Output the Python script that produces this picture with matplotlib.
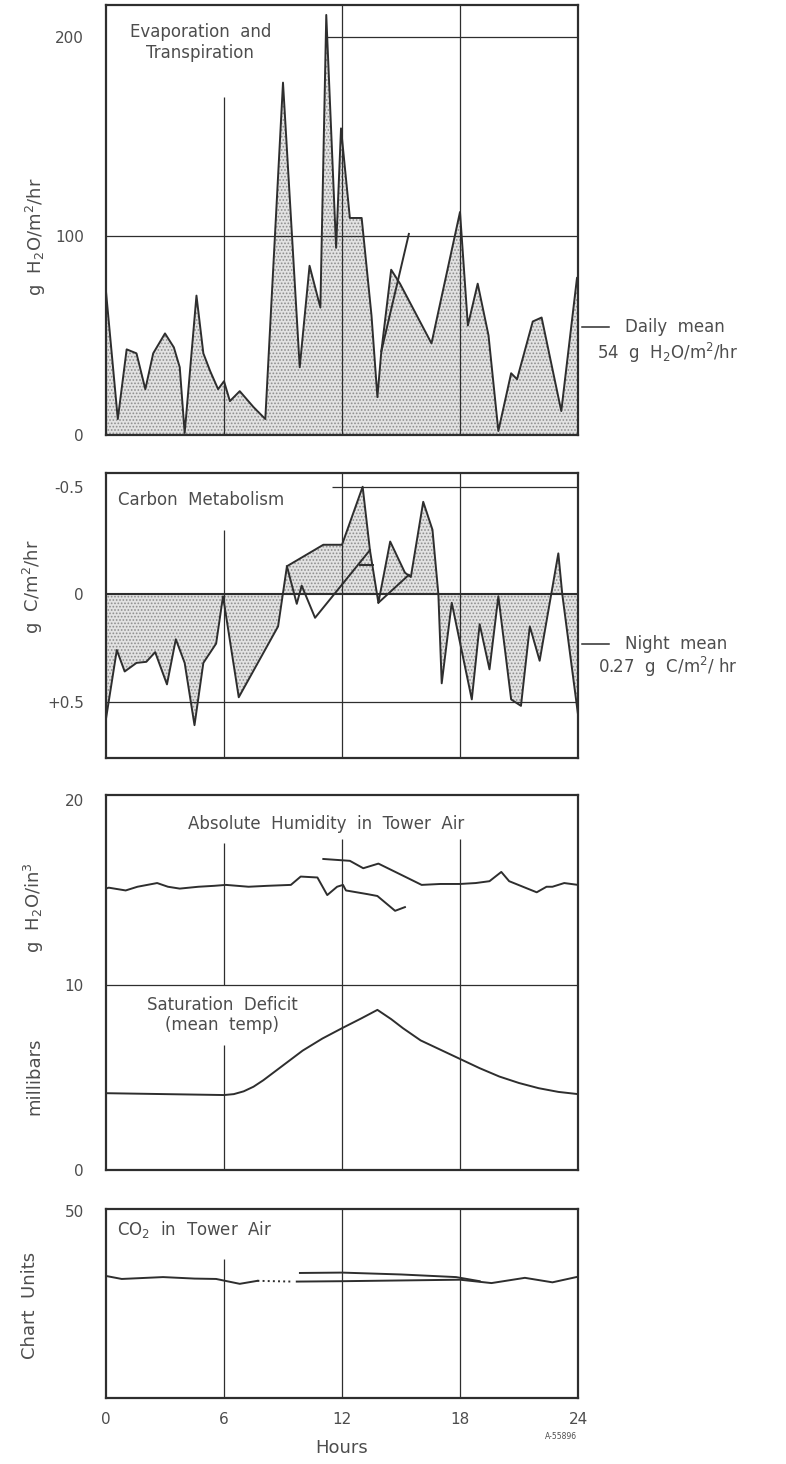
import matplotlib
matplotlib.use("Agg")
import matplotlib.pyplot as plt

plt.rcParams['font.family'] = ['DejaVu Sans']
plt.rcParams['hatch.linewidth'] = 0.8
plt.rcParams['mathtext.default'] = 'regular'

# evaporation and transpiration, g H2O/m2/hr
evap_h = [0.0, 0.6, 1.05, 1.55, 2.0, 2.4, 3.0, 3.45, 3.75, 4.0, 4.6, 4.95, 5.3, 5.7,
          6.0, 6.3, 6.8, 7.5, 8.1, 9.0, 9.85, 10.35, 10.9, 11.2, 11.7, 11.95, 12.4,
          13.0, 13.5, 13.8, 14.0, 14.5, 14.95, 16.55, 18.0, 18.4, 18.9, 19.45, 19.95,
          20.6, 20.9, 21.7, 22.15, 23.15, 23.95, 24.0]
evap_v = [72, 8, 43, 41, 23, 41, 51, 44, 34, 1, 70, 41, 32, 23,
          27, 17, 22, 14, 8, 177, 34, 85, 64, 211, 94, 154, 109,
          109, 60, 19, 42, 83, 76, 46, 112, 55, 76, 50, 2,
          31, 28, 57, 59, 12, 79, 79]
evap2_h = [14.0, 15.4]
evap2_v = [42, 101]
daily_mean = 54

# carbon metabolism, g C/m2/hr (positive = downward on chart)
carb_h = [0.0, 0.55, 0.95, 1.55, 2.05, 2.5, 3.1, 3.55, 4.0, 4.5, 4.95, 5.6, 5.95,
          6.75, 8.75, 9.2, 11.05, 12.0, 13.05, 13.42, 13.85, 14.45, 15.2, 15.5,
          16.13, 16.6, 16.9, 17.07, 17.58, 18.6, 19.0, 19.5, 19.95, 20.6, 21.1,
          21.55, 22.05, 23.0, 23.2, 23.95, 24.0]
carb_v = [0.58, 0.26, 0.36, 0.32, 0.315, 0.27, 0.42, 0.21, 0.32, 0.61, 0.32, 0.23, 0.01,
          0.48, 0.15, -0.13, -0.23, -0.23, -0.5, -0.205, 0.04, -0.245, -0.10, -0.08,
          -0.43, -0.30, 0.0, 0.415, 0.04, 0.49, 0.14, 0.35, 0.01, 0.49, 0.52,
          0.15, 0.31, -0.19, 0.0, 0.525, 0.56]
carb2_h = [9.2, 9.7, 9.95, 10.63, 13.42]
carb2_v = [-0.13, 0.045, -0.04, 0.11, -0.205]
carb3_h = [13.85, 15.4]
carb3_v = [0.04, -0.09]
carb4_h = [12.9, 13.6]
carb4_v = [-0.135, -0.135]
night_mean = 0.23

# absolute humidity (g H2O/in3) and saturation deficit (millibars)
hum_h = [0.0, 0.14, 1.0, 1.6, 2.6, 3.15, 3.75, 4.7, 5.5, 6.1, 7.25, 8.2, 9.4, 9.9,
         10.75, 11.25, 11.75, 12.05, 12.2, 13.3, 13.8, 14.7, 15.2]
hum_v = [15.2, 15.25, 15.1, 15.3, 15.5, 15.3, 15.2, 15.3, 15.35, 15.4, 15.3, 15.35, 15.4, 15.85,
         15.8, 14.85, 15.3, 15.4, 15.1, 14.9, 14.8, 14.0, 14.2]
hum2_h = [11.05, 12.4, 13.08, 13.85, 15.0, 16.05, 17.0, 18.0, 18.8, 19.5, 20.1, 20.5,
          21.2, 21.9, 22.4, 22.7, 23.3, 24.0]
hum2_v = [16.8, 16.7, 16.3, 16.55, 15.95, 15.4, 15.45, 15.45, 15.5, 15.6, 16.1, 15.6,
          15.3, 15.0, 15.3, 15.3, 15.5, 15.4]
sat_h = [0.0, 3.0, 6.0, 6.5, 7.0, 7.5, 8.0, 8.5, 9.0, 9.5, 10.0, 11.0, 12.0, 13.0, 13.8,
         14.5, 15.1, 16.0, 17.0, 18.0, 19.0, 20.0, 21.0, 22.0, 23.0, 24.0]
sat_v = [4.15, 4.1, 4.05, 4.1, 4.25, 4.5, 4.85, 5.25, 5.65, 6.05, 6.45, 7.1, 7.66, 8.2, 8.65,
         8.15, 7.66, 7.0, 6.5, 6.0, 5.5, 5.05, 4.7, 4.42, 4.22, 4.1]

# CO2 in tower air, chart units
co2_h = [0.0, 0.8, 2.9, 4.5, 5.6, 6.8, 7.7]
co2_v = [32.6, 31.8, 32.3, 31.9, 31.8, 30.5, 31.3]
co2_dot_h = [7.7, 9.45]
co2_dot_v = [31.3, 31.1]
co2_low_h = [9.7, 12.0, 15.0, 18.0, 19.6, 21.3, 22.7, 24.0]
co2_low_v = [31.1, 31.2, 31.4, 31.6, 30.7, 32.1, 30.9, 32.4]
co2_up_h = [9.86, 12.0, 15.0, 17.8, 19.0]
co2_up_v = [33.4, 33.5, 33.0, 32.3, 31.2]

hour_ticks = [0, 6, 12, 18, 24]

INK = '#2e2e2e'
TXT = '#4d4d4d'
FILL = dict(facecolor='#e2e2e2', edgecolor='#8e8e8e', hatch='.....', linewidth=0, zorder=1)

fig = plt.figure(figsize=(7.86, 14.64), dpi=100)
fig.patch.set_facecolor('white')

L, W = 106 / 786, 472 / 786
ax1 = fig.add_axes([L, 0.7029, W, 0.2937])
ax2 = fig.add_axes([L, 0.4822, W, 0.1947])
ax3 = fig.add_axes([L, 0.2008, W, 0.2561])
ax4 = fig.add_axes([L, 0.0451, W, 0.1291])


def frame(ax):
    ax.set_xlim(0, 24)
    for s in ax.spines.values():
        s.set_color(INK)
        s.set_linewidth(1.6)
    ax.tick_params(length=0, labelsize=11, labelcolor=TXT, pad=16)
    ax.set_xticks(hour_ticks)
    ax.tick_params(axis='x', labelbottom=False)


def side_label(ax, x, y, s):
    ax.text(x, y, s, transform=ax.transAxes, rotation=90, ha='center', va='center',
            fontsize=13, color=TXT)


grid = dict(color=INK, linewidth=0.9, zorder=2)
line = dict(color=INK, linewidth=1.4, zorder=3)

# panel 1
frame(ax1)
ax1.set_ylim(0, 216)
ax1.set_yticks([0, 100, 200])
ax1.fill_between(evap_h, evap_v, 0, **FILL)
ax1.plot(evap_h, evap_v, **line)
ax1.plot(evap2_h, evap2_v, **line)
ax1.axhline(100, **grid)
ax1.hlines(200, 11.2, 24, **grid)
ax1.vlines(6, 0, 170, **grid)
ax1.vlines([12, 18], 0, 216, **grid)
ax1.text(4.8, 207, 'Evaporation  and\nTranspiration', ha='center', va='top',
         fontsize=12, color=TXT, linespacing=1.25)
side_label(ax1, -0.148, 0.46, 'g  H$_2$O/m$^2$/hr')
ax1.plot([24.2, 25.6], [daily_mean, daily_mean], color=INK, lw=1.1, clip_on=False)
ax1.text(26.4, daily_mean, 'Daily  mean', fontsize=12, color=TXT, va='center')
ax1.text(24.95, daily_mean - 13, '54  g  H$_2$O/m$^2$/hr', fontsize=12, color=TXT, va='center')

# panel 2
frame(ax2)
ax2.set_ylim(0.763, -0.564)
ax2.set_yticks([-0.5, 0, 0.5])
ax2.set_yticklabels(['-0.5', '0', '+0.5'])
ax2.fill_between(carb_h, carb_v, 0, **FILL)
ax2.plot(carb_h, carb_v, **line)
ax2.plot(carb2_h, carb2_v, **line)
ax2.plot(carb3_h, carb3_v, **line)
ax2.plot(carb4_h, carb4_v, **line)
ax2.axhline(0, color=INK, linewidth=1.5, zorder=2)
ax2.axhline(0.5, **grid)
ax2.hlines(-0.5, 11.5, 24, **grid)
ax2.vlines(6, -0.30, 0.763, **grid)
ax2.vlines([12, 18], -0.564, 0.763, **grid)
ax2.text(0.6, -0.44, 'Carbon  Metabolism', va='center', fontsize=12, color=TXT)
side_label(ax2, -0.155, 0.6, 'g  C/m$^2$/hr')
ax2.plot([24.2, 25.6], [night_mean, night_mean], color=INK, lw=1.1, clip_on=False)
ax2.text(26.4, night_mean, 'Night  mean', fontsize=12, color=TXT, va='center')
ax2.text(25.0, night_mean + 0.11, '0.27  g  C/m$^2$/ hr', fontsize=12, color=TXT, va='center')

# panel 3
frame(ax3)
ax3.set_ylim(0, 20.25)
ax3.set_yticks([0, 10, 20])
ax3.plot(hum_h, hum_v, **line)
ax3.plot(hum2_h, hum2_v, **line)
ax3.plot(sat_h, sat_v, **line)
ax3.axhline(10, **grid)
ax3.vlines(6, 0, 6.76, **grid)
ax3.vlines(6, 10, 17.65, **grid)
ax3.vlines([12, 18], 0, 17.9, **grid)
ax3.text(11.2, 18.7, 'Absolute  Humidity  in  Tower  Air', ha='center', va='center',
         fontsize=12, color=TXT)
ax3.text(5.9, 9.4, 'Saturation  Deficit\n(mean  temp)', ha='center', va='top',
         fontsize=12, color=TXT, linespacing=1.15)
side_label(ax3, -0.152, 0.70, 'g  H$_2$O/in$^3$')
side_label(ax3, -0.152, 0.25, 'millibars')

# panel 4
frame(ax4)
ax4.set_ylim(0, 50.5)
ax4.set_yticks([50])
ax4.plot(co2_h, co2_v, **line)
ax4.plot(co2_dot_h, co2_dot_v, color=INK, linewidth=1.4, linestyle=':', zorder=3)
ax4.plot(co2_low_h, co2_low_v, **line)
ax4.plot(co2_up_h, co2_up_v, **line)
ax4.vlines(6, 0, 37, **grid)
ax4.vlines([12, 18], 0, 50.5, **grid)
ax4.text(0.55, 44.9, 'CO$_2$  in  Tower  Air', va='center', fontsize=12, color=TXT)
side_label(ax4, -0.162, 0.49, 'Chart  Units')
ax4.tick_params(axis='x', labelbottom=True, pad=10)
ax4.text(0.5, -0.265, 'Hours', transform=ax4.transAxes, ha='center', va='center',
         fontsize=13, color=TXT)
ax4.text(0.965, -0.205, 'A-55896', transform=ax4.transAxes, ha='center', va='center',
         fontsize=5.5, color=TXT)

fig.savefig('out.png', dpi=100, facecolor='white')
